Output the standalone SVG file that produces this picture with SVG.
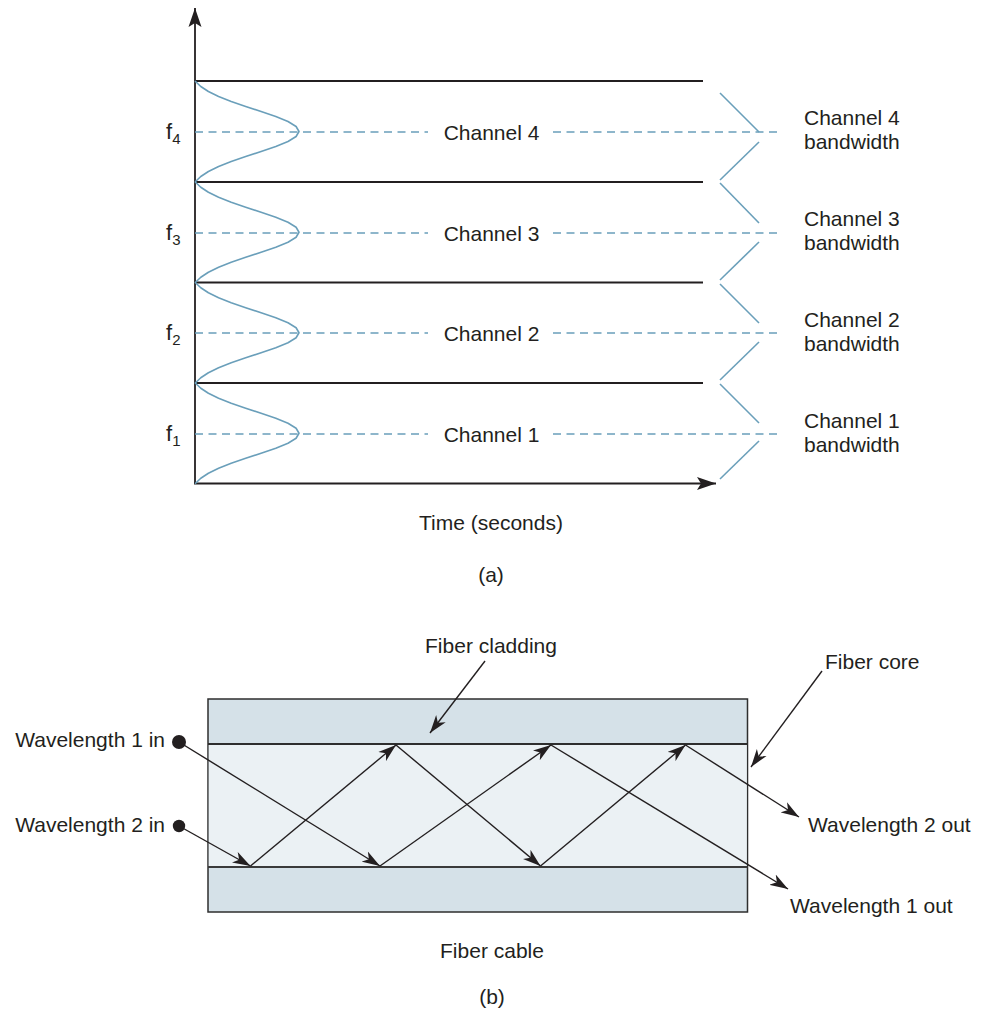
<svg xmlns="http://www.w3.org/2000/svg" xmlns:xlink="http://www.w3.org/1999/xlink" width="982" height="1010" viewBox="0 0 982 1010">
<style>
  text { font-family: "Liberation Sans", Arial, sans-serif; font-size: 21px; fill: #231f20; }
  .k { stroke: #231f20; stroke-width: 1.8; fill: none; }
  .bl { stroke: #6a9fba; stroke-width: 1.6; fill: none; }
  .dash { stroke: #6a9fba; stroke-width: 1.5; fill: none; stroke-dasharray: 8 5.5; }
  .ray { stroke: #231f20; stroke-width: 1.4; fill: none; marker-end: url(#ah); }
  .mid { text-anchor: middle; }
  .flab { font-size: 22px; }
  .sub { font-size: 15px; }
</style>
<defs>
  <marker id="ah" markerWidth="19" markerHeight="13" refX="18" refY="6.5" orient="auto" markerUnits="userSpaceOnUse">
    <path d="M0,0.5 L18,6.5 L0,12.5 L5,6.5 Z" fill="#231f20"/>
  </marker>
  <marker id="axh" markerWidth="20" markerHeight="14" refX="19" refY="7" orient="auto" markerUnits="userSpaceOnUse">
    <path d="M0,0.5 L19,7 L0,13.5 L4,7 Z" fill="#231f20"/>
  </marker>
  <path id="bell" d="M195,-50.5 L200.8,-45 L208.4,-40 L218.6,-35 L231.2,-30 L245.7,-25 L261.1,-20 L275.8,-15 L288,-10 L296.1,-5 L299,0 L296.1,5 L288,10 L275.8,15 L261.1,20 L245.7,25 L231.2,30 L218.6,35 L208.4,40 L200.8,45 L195,50.5" class="bl" stroke-linejoin="round"/>
</defs>

<!-- Part (a) -->
<g id="axes">
  <line x1="195" y1="484" x2="195" y2="8" class="k" stroke-width="2" marker-end="url(#axh)"/>
  <line x1="194" y1="483.5" x2="716" y2="483.5" class="k" stroke-width="2" marker-end="url(#axh)"/>
</g>
<g id="grid">
  <line x1="195" y1="81" x2="703" y2="81" class="k"/>
  <line x1="195" y1="182" x2="703" y2="182" class="k"/>
  <line x1="195" y1="282.5" x2="703" y2="282.5" class="k"/>
  <line x1="195" y1="383" x2="703" y2="383" class="k"/>
</g>
<g id="channel4">
  <use xlink:href="#bell" transform="translate(0,131.5)"/>
  <line x1="195" y1="132" x2="428" y2="132" class="dash"/>
  <line x1="553" y1="132" x2="780" y2="132" class="dash"/>
  <text x="491.5" y="140" class="mid">Channel 4</text>
  <text x="166" y="138.5" class="flab">f<tspan class="sub" dy="5">4</tspan></text>
  <polyline points="720,93 759,132" class="bl"/>
  <polyline points="759,142 720,180" class="bl"/>
  <text x="804" y="125">Channel 4</text>
  <text x="804" y="149">bandwidth</text>
</g>
<g id="channel3">
  <use xlink:href="#bell" transform="translate(0,232.25)"/>
  <line x1="195" y1="233" x2="428" y2="233" class="dash"/>
  <line x1="553" y1="233" x2="780" y2="233" class="dash"/>
  <text x="491.5" y="241" class="mid">Channel 3</text>
  <text x="166" y="239.5" class="flab">f<tspan class="sub" dy="5">3</tspan></text>
  <polyline points="720,183 759,223" class="bl"/>
  <polyline points="759,242 720,280" class="bl"/>
  <text x="804" y="226">Channel 3</text>
  <text x="804" y="250">bandwidth</text>
</g>
<g id="channel2">
  <use xlink:href="#bell" transform="translate(0,332.75)"/>
  <line x1="195" y1="333" x2="428" y2="333" class="dash"/>
  <line x1="553" y1="333" x2="780" y2="333" class="dash"/>
  <text x="491.5" y="341" class="mid">Channel 2</text>
  <text x="166" y="339.5" class="flab">f<tspan class="sub" dy="5">2</tspan></text>
  <polyline points="720,284 759,323" class="bl"/>
  <polyline points="759,342 720,380" class="bl"/>
  <text x="804" y="327">Channel 2</text>
  <text x="804" y="351">bandwidth</text>
</g>
<g id="channel1">
  <use xlink:href="#bell" transform="translate(0,433.25)"/>
  <line x1="195" y1="434" x2="428" y2="434" class="dash"/>
  <line x1="553" y1="434" x2="780" y2="434" class="dash"/>
  <text x="491.5" y="442" class="mid">Channel 1</text>
  <text x="166" y="440.5" class="flab">f<tspan class="sub" dy="5">1</tspan></text>
  <polyline points="720,384 759,423" class="bl"/>
  <polyline points="759,441 720,479" class="bl"/>
  <text x="804" y="428">Channel 1</text>
  <text x="804" y="452">bandwidth</text>
</g>
<g id="caption-a">
  <text x="491" y="530" class="mid">Time (seconds)</text>
  <text x="491" y="582" class="mid">(a)</text>
</g>

<!-- Part (b) -->
<g id="fiber">
  <rect x="208" y="699" width="539.5" height="213" fill="#d5e1e8" stroke="#2e2e2e" stroke-width="1.5"/>
  <rect x="208.75" y="744" width="538" height="123" fill="#ebf1f4"/>
  <line x1="208" y1="744" x2="747.5" y2="744" stroke="#2e2e2e" stroke-width="2"/>
  <line x1="208" y1="867" x2="747.5" y2="867" stroke="#3a3a3a" stroke-width="2.2"/>
</g>
<g id="inputs">
  <circle cx="179" cy="742" r="7" fill="#231f20"/>
  <circle cx="179" cy="826" r="6.2" fill="#231f20"/>
  <text x="165" y="747" text-anchor="end">Wavelength 1 in</text>
  <text x="165" y="832" text-anchor="end">Wavelength 2 in</text>
</g>
<g id="connectors">
  <line x1="179" y1="742" x2="380" y2="866" class="ray"/>
  <line x1="380" y1="866" x2="551" y2="745" class="ray"/>
  <line x1="551" y1="745" x2="788" y2="889" class="ray"/>
  <line x1="179" y1="826" x2="250.5" y2="866" class="ray"/>
  <line x1="250.5" y1="866" x2="396" y2="745" class="ray"/>
  <line x1="396" y1="745" x2="540.5" y2="866" class="ray"/>
  <line x1="540.5" y1="866" x2="685.5" y2="745" class="ray"/>
  <line x1="685.5" y1="745" x2="799" y2="817" class="ray"/>
  <line x1="485" y1="661" x2="430" y2="733" class="ray"/>
  <line x1="822" y1="671" x2="751" y2="767" class="ray"/>
</g>
<g id="labels-b">
  <text x="491" y="653" class="mid">Fiber cladding</text>
  <text x="825" y="669">Fiber core</text>
  <text x="808" y="832">Wavelength 2 out</text>
  <text x="790" y="913">Wavelength 1 out</text>
  <text x="492" y="958" class="mid">Fiber cable</text>
  <text x="492" y="1004" class="mid">(b)</text>
</g>
</svg>
